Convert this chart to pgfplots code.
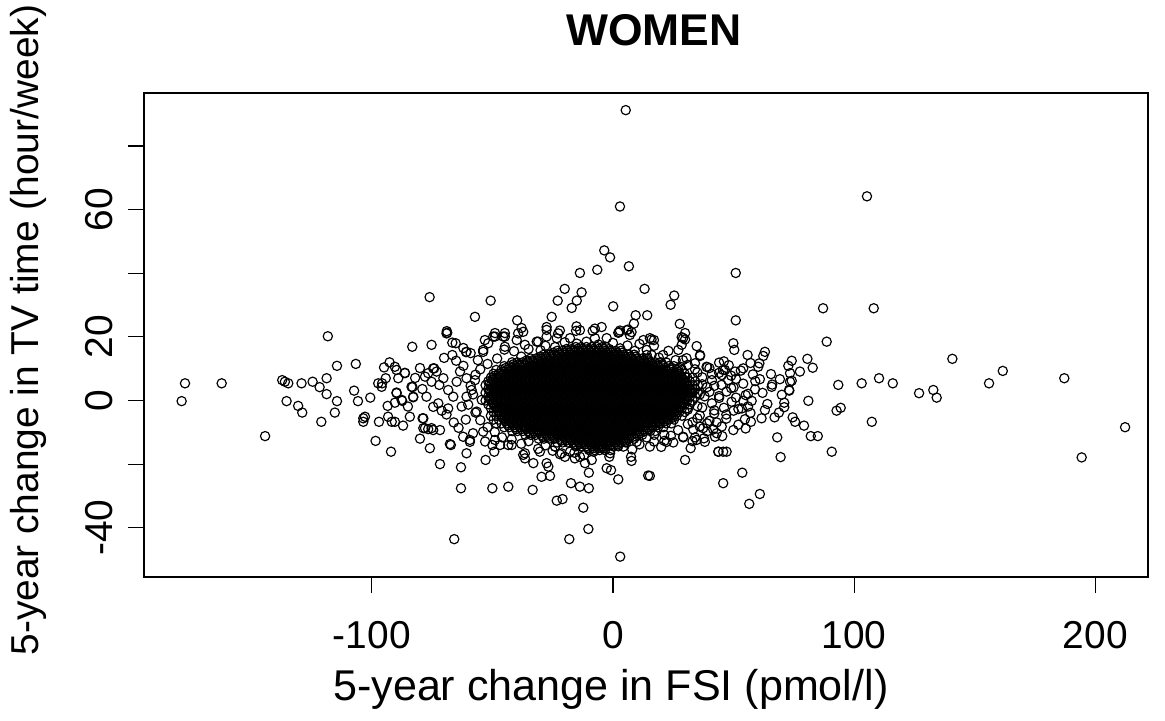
\documentclass[border=0pt]{standalone}
\usepackage{fontspec}
\setmainfont{Liberation Sans}
\usepackage{pgfplots}
\pgfplotsset{compat=1.18}
\pgfplotsset{rmark/.style={only marks, mark=o, mark size=1.67pt, black, mark options={line width=0.42pt}}}
\begin{document}
\begin{tikzpicture}
\path[use as bounding box] (0,0) rectangle (419.4pt,259.2pt);
\begin{axis}[
  at={(51.84pt,51.48pt)}, anchor=south west,
  scale only axis, width=361.44pt, height=174.24pt,
  xmin=-194.4, xmax=221.8, ymin=-55.5, ymax=96.7,
  axis line style={line width=0.42pt},
  tick style={line width=0.42pt, black},
  tick align=outside, major tick length=5.76pt,
  xtick pos=left, ytick pos=left,
  xtick={-100,0,100,200}, xticklabels={-100,0,100,200},
  ytick={-40,-20,0,20,40,60,80}, yticklabels={-40,{},0,20,{},60,{}},
  tick label style={font=\fontsize{14}{16}\selectfont},
  xticklabel style={anchor=base}, xticklabel shift=20.1pt,
  yticklabel style={rotate=90, anchor=base}, yticklabel shift=5.7pt,
  xlabel={5-year change in FSI (pmol/l)},
  ylabel={5-year change in TV time (hour/week)},
  xlabel style={at={(axis description cs:0.465,-0.256)}, anchor=base, font=\fontsize{15.5}{18}\selectfont},
  ylabel style={at={(axis description cs:-0.1046,0.51)}, anchor=base, font=\fontsize{14}{16}\selectfont},
  title={WOMEN},
  every axis title shift=0pt,
  title style={at={(axis description cs:0.508,1.099)}, anchor=base, font=\bfseries\fontsize{16}{19}\selectfont},
]
% dense core
\addplot[rmark] coordinates {
(-15.4,16.8) (-13.2,16.8) (-11,16.8) (-8.8,16.8) (-6.6,16.8) (-4.4,16.8)
(-23.1,15.6) (-20.9,15.6) (-18.7,15.6) (-16.5,15.6) (-14.3,15.6) (-12.1,15.6) (-9.9,15.6) (-7.7,15.6) (-5.5,15.6) (-3.3,15.6) (-1.1,15.6) (1.1,15.6) (3.3,15.6)
(-28.6,14.4) (-26.4,14.4) (-24.2,14.4) (-22,14.4) (-19.8,14.4) (-17.6,14.4) (-15.4,14.4) (-13.2,14.4) (-11,14.4) (-8.8,14.4) (-6.6,14.4) (-4.4,14.4) (-2.2,14.4) (0,14.4) (2.2,14.4) (4.4,14.4) (6.6,14.4) (8.8,14.4)
(-34.1,13.2) (-31.9,13.2) (-29.7,13.2) (-27.5,13.2) (-25.3,13.2) (-23.1,13.2) (-20.9,13.2) (-18.7,13.2) (-16.5,13.2) (-14.3,13.2) (-12.1,13.2) (-9.9,13.2) (-7.7,13.2) (-5.5,13.2) (-3.3,13.2) (-1.1,13.2) (1.1,13.2) (3.3,13.2) (5.5,13.2) (7.7,13.2) (9.9,13.2) (12.1,13.2) (14.3,13.2)
(-41.8,12) (-39.6,12) (-37.4,12) (-35.2,12) (-33,12) (-30.8,12) (-28.6,12) (-26.4,12) (-24.2,12) (-22,12) (-19.8,12) (-17.6,12) (-15.4,12) (-13.2,12) (-11,12) (-8.8,12) (-6.6,12) (-4.4,12) (-2.2,12) (0,12) (2.2,12) (4.4,12) (6.6,12) (8.8,12) (11,12) (13.2,12) (15.4,12) (17.6,12) (19.8,12) (22,12)
(-45.1,10.8) (-42.9,10.8) (-40.7,10.8) (-38.5,10.8) (-36.3,10.8) (-34.1,10.8) (-31.9,10.8) (-29.7,10.8) (-27.5,10.8) (-25.3,10.8) (-23.1,10.8) (-20.9,10.8) (-18.7,10.8) (-16.5,10.8) (-14.3,10.8) (-12.1,10.8) (-9.9,10.8) (-7.7,10.8) (-5.5,10.8) (-3.3,10.8) (-1.1,10.8) (1.1,10.8) (3.3,10.8) (5.5,10.8) (7.7,10.8) (9.9,10.8) (12.1,10.8) (14.3,10.8) (16.5,10.8) (18.7,10.8) (20.9,10.8) (23.1,10.8) (25.3,10.8)
(-48.4,9.6) (-46.2,9.6) (-44,9.6) (-41.8,9.6) (-39.6,9.6) (-37.4,9.6) (-35.2,9.6) (-33,9.6) (-30.8,9.6) (-28.6,9.6) (-26.4,9.6) (-24.2,9.6) (-22,9.6) (-19.8,9.6) (-17.6,9.6) (-15.4,9.6) (-13.2,9.6) (-11,9.6) (-8.8,9.6) (-6.6,9.6) (-4.4,9.6) (-2.2,9.6) (0,9.6) (2.2,9.6) (4.4,9.6) (6.6,9.6) (8.8,9.6) (11,9.6) (13.2,9.6) (15.4,9.6) (17.6,9.6) (19.8,9.6) (22,9.6) (24.2,9.6) (26.4,9.6) (28.6,9.6)
(-49.5,8.4) (-47.3,8.4) (-45.1,8.4) (-42.9,8.4) (-40.7,8.4) (-38.5,8.4) (-36.3,8.4) (-34.1,8.4) (-31.9,8.4) (-29.7,8.4) (-27.5,8.4) (-25.3,8.4) (-23.1,8.4) (-20.9,8.4) (-18.7,8.4) (-16.5,8.4) (-14.3,8.4) (-12.1,8.4) (-9.9,8.4) (-7.7,8.4) (-5.5,8.4) (-3.3,8.4) (-1.1,8.4) (1.1,8.4) (3.3,8.4) (5.5,8.4) (7.7,8.4) (9.9,8.4) (12.1,8.4) (14.3,8.4) (16.5,8.4) (18.7,8.4) (20.9,8.4) (23.1,8.4) (25.3,8.4) (27.5,8.4) (29.7,8.4)
(-50.6,7.2) (-48.4,7.2) (-46.2,7.2) (-44,7.2) (-41.8,7.2) (-39.6,7.2) (-37.4,7.2) (-35.2,7.2) (-33,7.2) (-30.8,7.2) (-28.6,7.2) (-26.4,7.2) (-24.2,7.2) (-22,7.2) (-19.8,7.2) (-17.6,7.2) (-15.4,7.2) (-13.2,7.2) (-11,7.2) (-8.8,7.2) (-6.6,7.2) (-4.4,7.2) (-2.2,7.2) (0,7.2) (2.2,7.2) (4.4,7.2) (6.6,7.2) (8.8,7.2) (11,7.2) (13.2,7.2) (15.4,7.2) (17.6,7.2) (19.8,7.2) (22,7.2) (24.2,7.2) (26.4,7.2) (28.6,7.2) (30.8,7.2) (33,7.2)
(-51.7,6) (-49.5,6) (-47.3,6) (-45.1,6) (-42.9,6) (-40.7,6) (-38.5,6) (-36.3,6) (-34.1,6) (-31.9,6) (-29.7,6) (-27.5,6) (-25.3,6) (-23.1,6) (-20.9,6) (-18.7,6) (-16.5,6) (-14.3,6) (-12.1,6) (-9.9,6) (-7.7,6) (-5.5,6) (-3.3,6) (-1.1,6) (1.1,6) (3.3,6) (5.5,6) (7.7,6) (9.9,6) (12.1,6) (14.3,6) (16.5,6) (18.7,6) (20.9,6) (23.1,6) (25.3,6) (27.5,6) (29.7,6) (31.9,6) (34.1,6)
(-52.8,4.8) (-50.6,4.8) (-48.4,4.8) (-46.2,4.8) (-44,4.8) (-41.8,4.8) (-39.6,4.8) (-37.4,4.8) (-35.2,4.8) (-33,4.8) (-30.8,4.8) (-28.6,4.8) (-26.4,4.8) (-24.2,4.8) (-22,4.8) (-19.8,4.8) (-17.6,4.8) (-15.4,4.8) (-13.2,4.8) (-11,4.8) (-8.8,4.8) (-6.6,4.8) (-4.4,4.8) (-2.2,4.8) (0,4.8) (2.2,4.8) (4.4,4.8) (6.6,4.8) (8.8,4.8) (11,4.8) (13.2,4.8) (15.4,4.8) (17.6,4.8) (19.8,4.8) (22,4.8) (24.2,4.8) (26.4,4.8) (28.6,4.8) (30.8,4.8) (33,4.8) (35.2,4.8)
(-51.7,3.6) (-49.5,3.6) (-47.3,3.6) (-45.1,3.6) (-42.9,3.6) (-40.7,3.6) (-38.5,3.6) (-36.3,3.6) (-34.1,3.6) (-31.9,3.6) (-29.7,3.6) (-27.5,3.6) (-25.3,3.6) (-23.1,3.6) (-20.9,3.6) (-18.7,3.6) (-16.5,3.6) (-14.3,3.6) (-12.1,3.6) (-9.9,3.6) (-7.7,3.6) (-5.5,3.6) (-3.3,3.6) (-1.1,3.6) (1.1,3.6) (3.3,3.6) (5.5,3.6) (7.7,3.6) (9.9,3.6) (12.1,3.6) (14.3,3.6) (16.5,3.6) (18.7,3.6) (20.9,3.6) (23.1,3.6) (25.3,3.6) (27.5,3.6) (29.7,3.6) (31.9,3.6) (34.1,3.6)
(-52.8,2.4) (-50.6,2.4) (-48.4,2.4) (-46.2,2.4) (-44,2.4) (-41.8,2.4) (-39.6,2.4) (-37.4,2.4) (-35.2,2.4) (-33,2.4) (-30.8,2.4) (-28.6,2.4) (-26.4,2.4) (-24.2,2.4) (-22,2.4) (-19.8,2.4) (-17.6,2.4) (-15.4,2.4) (-13.2,2.4) (-11,2.4) (-8.8,2.4) (-6.6,2.4) (-4.4,2.4) (-2.2,2.4) (0,2.4) (2.2,2.4) (4.4,2.4) (6.6,2.4) (8.8,2.4) (11,2.4) (13.2,2.4) (15.4,2.4) (17.6,2.4) (19.8,2.4) (22,2.4) (24.2,2.4) (26.4,2.4) (28.6,2.4) (30.8,2.4) (33,2.4) (35.2,2.4)
(-51.7,1.2) (-49.5,1.2) (-47.3,1.2) (-45.1,1.2) (-42.9,1.2) (-40.7,1.2) (-38.5,1.2) (-36.3,1.2) (-34.1,1.2) (-31.9,1.2) (-29.7,1.2) (-27.5,1.2) (-25.3,1.2) (-23.1,1.2) (-20.9,1.2) (-18.7,1.2) (-16.5,1.2) (-14.3,1.2) (-12.1,1.2) (-9.9,1.2) (-7.7,1.2) (-5.5,1.2) (-3.3,1.2) (-1.1,1.2) (1.1,1.2) (3.3,1.2) (5.5,1.2) (7.7,1.2) (9.9,1.2) (12.1,1.2) (14.3,1.2) (16.5,1.2) (18.7,1.2) (20.9,1.2) (23.1,1.2) (25.3,1.2) (27.5,1.2) (29.7,1.2) (31.9,1.2) (34.1,1.2)
(-52.8,0) (-50.6,0) (-48.4,0) (-46.2,0) (-44,0) (-41.8,0) (-39.6,0) (-37.4,0) (-35.2,0) (-33,0) (-30.8,0) (-28.6,0) (-26.4,0) (-24.2,0) (-22,0) (-19.8,0) (-17.6,0) (-15.4,0) (-13.2,0) (-11,0) (-8.8,0) (-6.6,0) (-4.4,0) (-2.2,0) (0,0) (2.2,0) (4.4,0) (6.6,0) (8.8,0) (11,0) (13.2,0) (15.4,0) (17.6,0) (19.8,0) (22,0) (24.2,0) (26.4,0) (28.6,0) (30.8,0) (33,0)
(-51.7,-1.2) (-49.5,-1.2) (-47.3,-1.2) (-45.1,-1.2) (-42.9,-1.2) (-40.7,-1.2) (-38.5,-1.2) (-36.3,-1.2) (-34.1,-1.2) (-31.9,-1.2) (-29.7,-1.2) (-27.5,-1.2) (-25.3,-1.2) (-23.1,-1.2) (-20.9,-1.2) (-18.7,-1.2) (-16.5,-1.2) (-14.3,-1.2) (-12.1,-1.2) (-9.9,-1.2) (-7.7,-1.2) (-5.5,-1.2) (-3.3,-1.2) (-1.1,-1.2) (1.1,-1.2) (3.3,-1.2) (5.5,-1.2) (7.7,-1.2) (9.9,-1.2) (12.1,-1.2) (14.3,-1.2) (16.5,-1.2) (18.7,-1.2) (20.9,-1.2) (23.1,-1.2) (25.3,-1.2) (27.5,-1.2) (29.7,-1.2) (31.9,-1.2)
(-50.6,-2.4) (-48.4,-2.4) (-46.2,-2.4) (-44,-2.4) (-41.8,-2.4) (-39.6,-2.4) (-37.4,-2.4) (-35.2,-2.4) (-33,-2.4) (-30.8,-2.4) (-28.6,-2.4) (-26.4,-2.4) (-24.2,-2.4) (-22,-2.4) (-19.8,-2.4) (-17.6,-2.4) (-15.4,-2.4) (-13.2,-2.4) (-11,-2.4) (-8.8,-2.4) (-6.6,-2.4) (-4.4,-2.4) (-2.2,-2.4) (0,-2.4) (2.2,-2.4) (4.4,-2.4) (6.6,-2.4) (8.8,-2.4) (11,-2.4) (13.2,-2.4) (15.4,-2.4) (17.6,-2.4) (19.8,-2.4) (22,-2.4) (24.2,-2.4) (26.4,-2.4) (28.6,-2.4) (30.8,-2.4)
(-49.5,-3.6) (-47.3,-3.6) (-45.1,-3.6) (-42.9,-3.6) (-40.7,-3.6) (-38.5,-3.6) (-36.3,-3.6) (-34.1,-3.6) (-31.9,-3.6) (-29.7,-3.6) (-27.5,-3.6) (-25.3,-3.6) (-23.1,-3.6) (-20.9,-3.6) (-18.7,-3.6) (-16.5,-3.6) (-14.3,-3.6) (-12.1,-3.6) (-9.9,-3.6) (-7.7,-3.6) (-5.5,-3.6) (-3.3,-3.6) (-1.1,-3.6) (1.1,-3.6) (3.3,-3.6) (5.5,-3.6) (7.7,-3.6) (9.9,-3.6) (12.1,-3.6) (14.3,-3.6) (16.5,-3.6) (18.7,-3.6) (20.9,-3.6) (23.1,-3.6) (25.3,-3.6) (27.5,-3.6) (29.7,-3.6)
(-50.6,-4.8) (-48.4,-4.8) (-46.2,-4.8) (-44,-4.8) (-41.8,-4.8) (-39.6,-4.8) (-37.4,-4.8) (-35.2,-4.8) (-33,-4.8) (-30.8,-4.8) (-28.6,-4.8) (-26.4,-4.8) (-24.2,-4.8) (-22,-4.8) (-19.8,-4.8) (-17.6,-4.8) (-15.4,-4.8) (-13.2,-4.8) (-11,-4.8) (-8.8,-4.8) (-6.6,-4.8) (-4.4,-4.8) (-2.2,-4.8) (0,-4.8) (2.2,-4.8) (4.4,-4.8) (6.6,-4.8) (8.8,-4.8) (11,-4.8) (13.2,-4.8) (15.4,-4.8) (17.6,-4.8) (19.8,-4.8) (22,-4.8) (24.2,-4.8) (26.4,-4.8) (28.6,-4.8)
(-49.5,-6) (-47.3,-6) (-45.1,-6) (-42.9,-6) (-40.7,-6) (-38.5,-6) (-36.3,-6) (-34.1,-6) (-31.9,-6) (-29.7,-6) (-27.5,-6) (-25.3,-6) (-23.1,-6) (-20.9,-6) (-18.7,-6) (-16.5,-6) (-14.3,-6) (-12.1,-6) (-9.9,-6) (-7.7,-6) (-5.5,-6) (-3.3,-6) (-1.1,-6) (1.1,-6) (3.3,-6) (5.5,-6) (7.7,-6) (9.9,-6) (12.1,-6) (14.3,-6) (16.5,-6) (18.7,-6) (20.9,-6) (23.1,-6) (25.3,-6)
(-48.4,-7.2) (-46.2,-7.2) (-44,-7.2) (-41.8,-7.2) (-39.6,-7.2) (-37.4,-7.2) (-35.2,-7.2) (-33,-7.2) (-30.8,-7.2) (-28.6,-7.2) (-26.4,-7.2) (-24.2,-7.2) (-22,-7.2) (-19.8,-7.2) (-17.6,-7.2) (-15.4,-7.2) (-13.2,-7.2) (-11,-7.2) (-8.8,-7.2) (-6.6,-7.2) (-4.4,-7.2) (-2.2,-7.2) (0,-7.2) (2.2,-7.2) (4.4,-7.2) (6.6,-7.2) (8.8,-7.2) (11,-7.2) (13.2,-7.2) (15.4,-7.2) (17.6,-7.2) (19.8,-7.2) (22,-7.2) (24.2,-7.2)
(-45.1,-8.4) (-42.9,-8.4) (-40.7,-8.4) (-38.5,-8.4) (-36.3,-8.4) (-34.1,-8.4) (-31.9,-8.4) (-29.7,-8.4) (-27.5,-8.4) (-25.3,-8.4) (-23.1,-8.4) (-20.9,-8.4) (-18.7,-8.4) (-16.5,-8.4) (-14.3,-8.4) (-12.1,-8.4) (-9.9,-8.4) (-7.7,-8.4) (-5.5,-8.4) (-3.3,-8.4) (-1.1,-8.4) (1.1,-8.4) (3.3,-8.4) (5.5,-8.4) (7.7,-8.4) (9.9,-8.4) (12.1,-8.4) (14.3,-8.4) (16.5,-8.4) (18.7,-8.4) (20.9,-8.4)
(-41.8,-9.6) (-39.6,-9.6) (-37.4,-9.6) (-35.2,-9.6) (-33,-9.6) (-30.8,-9.6) (-28.6,-9.6) (-26.4,-9.6) (-24.2,-9.6) (-22,-9.6) (-19.8,-9.6) (-17.6,-9.6) (-15.4,-9.6) (-13.2,-9.6) (-11,-9.6) (-8.8,-9.6) (-6.6,-9.6) (-4.4,-9.6) (-2.2,-9.6) (0,-9.6) (2.2,-9.6) (4.4,-9.6) (6.6,-9.6) (8.8,-9.6) (11,-9.6) (13.2,-9.6) (15.4,-9.6) (17.6,-9.6)
(-36.3,-10.8) (-34.1,-10.8) (-31.9,-10.8) (-29.7,-10.8) (-27.5,-10.8) (-25.3,-10.8) (-23.1,-10.8) (-20.9,-10.8) (-18.7,-10.8) (-16.5,-10.8) (-14.3,-10.8) (-12.1,-10.8) (-9.9,-10.8) (-7.7,-10.8) (-5.5,-10.8) (-3.3,-10.8) (-1.1,-10.8) (1.1,-10.8) (3.3,-10.8) (5.5,-10.8) (7.7,-10.8) (9.9,-10.8) (12.1,-10.8)
(-30.8,-12) (-28.6,-12) (-26.4,-12) (-24.2,-12) (-22,-12) (-19.8,-12) (-17.6,-12) (-15.4,-12) (-13.2,-12) (-11,-12) (-8.8,-12) (-6.6,-12) (-4.4,-12) (-2.2,-12) (0,-12) (2.2,-12) (4.4,-12) (6.6,-12) (8.8,-12)
(-23.1,-13.2) (-20.9,-13.2) (-18.7,-13.2) (-16.5,-13.2) (-14.3,-13.2) (-12.1,-13.2) (-9.9,-13.2) (-7.7,-13.2) (-5.5,-13.2) (-3.3,-13.2) (-1.1,-13.2) (1.1,-13.2) (3.3,-13.2) (5.5,-13.2)
(-15.4,-14.4) (-13.2,-14.4) (-11,-14.4) (-8.8,-14.4) (-6.6,-14.4) (-4.4,-14.4) (-2.2,-14.4) (0,-14.4) (2.2,-14.4)
(-9.9,-15.6) (-7.7,-15.6) (-5.5,-15.6) (-3.3,-15.6)
};
% dense core, in-between rows
\addplot[rmark] coordinates {
(-19.2,16.2) (-17,16.2) (-14.8,16.2) (-12.6,16.2) (-10.4,16.2) (-8.2,16.2) (-6,16.2) (-3.8,16.2) (-1.6,16.2)
(-24.7,15) (-22.5,15) (-20.3,15) (-18.1,15) (-15.9,15) (-13.7,15) (-11.5,15) (-9.3,15) (-7.1,15) (-4.9,15) (-2.7,15) (-0.5,15) (1.7,15) (3.9,15)
(-30.2,13.8) (-28,13.8) (-25.8,13.8) (-23.6,13.8) (-21.4,13.8) (-19.2,13.8) (-17,13.8) (-14.8,13.8) (-12.6,13.8) (-10.4,13.8) (-8.2,13.8) (-6,13.8) (-3.8,13.8) (-1.6,13.8) (0.6,13.8) (2.8,13.8) (5,13.8) (7.2,13.8) (9.4,13.8)
(-35.7,12.6) (-33.5,12.6) (-31.3,12.6) (-29.1,12.6) (-26.9,12.6) (-24.7,12.6) (-22.5,12.6) (-20.3,12.6) (-18.1,12.6) (-15.9,12.6) (-13.7,12.6) (-11.5,12.6) (-9.3,12.6) (-7.1,12.6) (-4.9,12.6) (-2.7,12.6) (-0.5,12.6) (1.7,12.6) (3.9,12.6) (6.1,12.6) (8.3,12.6) (10.5,12.6) (12.7,12.6) (14.9,12.6)
(-41.2,11.4) (-39,11.4) (-36.8,11.4) (-34.6,11.4) (-32.4,11.4) (-30.2,11.4) (-28,11.4) (-25.8,11.4) (-23.6,11.4) (-21.4,11.4) (-19.2,11.4) (-17,11.4) (-14.8,11.4) (-12.6,11.4) (-10.4,11.4) (-8.2,11.4) (-6,11.4) (-3.8,11.4) (-1.6,11.4) (0.6,11.4) (2.8,11.4) (5,11.4) (7.2,11.4) (9.4,11.4) (11.6,11.4) (13.8,11.4) (16,11.4) (18.2,11.4) (20.4,11.4)
(-44.5,10.2) (-42.3,10.2) (-40.1,10.2) (-37.9,10.2) (-35.7,10.2) (-33.5,10.2) (-31.3,10.2) (-29.1,10.2) (-26.9,10.2) (-24.7,10.2) (-22.5,10.2) (-20.3,10.2) (-18.1,10.2) (-15.9,10.2) (-13.7,10.2) (-11.5,10.2) (-9.3,10.2) (-7.1,10.2) (-4.9,10.2) (-2.7,10.2) (-0.5,10.2) (1.7,10.2) (3.9,10.2) (6.1,10.2) (8.3,10.2) (10.5,10.2) (12.7,10.2) (14.9,10.2) (17.1,10.2) (19.3,10.2) (21.5,10.2) (23.7,10.2)
(-45.6,9) (-43.4,9) (-41.2,9) (-39,9) (-36.8,9) (-34.6,9) (-32.4,9) (-30.2,9) (-28,9) (-25.8,9) (-23.6,9) (-21.4,9) (-19.2,9) (-17,9) (-14.8,9) (-12.6,9) (-10.4,9) (-8.2,9) (-6,9) (-3.8,9) (-1.6,9) (0.6,9) (2.8,9) (5,9) (7.2,9) (9.4,9) (11.6,9) (13.8,9) (16,9) (18.2,9) (20.4,9) (22.6,9) (24.8,9) (27,9)
(-48.9,7.8) (-46.7,7.8) (-44.5,7.8) (-42.3,7.8) (-40.1,7.8) (-37.9,7.8) (-35.7,7.8) (-33.5,7.8) (-31.3,7.8) (-29.1,7.8) (-26.9,7.8) (-24.7,7.8) (-22.5,7.8) (-20.3,7.8) (-18.1,7.8) (-15.9,7.8) (-13.7,7.8) (-11.5,7.8) (-9.3,7.8) (-7.1,7.8) (-4.9,7.8) (-2.7,7.8) (-0.5,7.8) (1.7,7.8) (3.9,7.8) (6.1,7.8) (8.3,7.8) (10.5,7.8) (12.7,7.8) (14.9,7.8) (17.1,7.8) (19.3,7.8) (21.5,7.8) (23.7,7.8) (25.9,7.8) (28.1,7.8)
(-50,6.6) (-47.8,6.6) (-45.6,6.6) (-43.4,6.6) (-41.2,6.6) (-39,6.6) (-36.8,6.6) (-34.6,6.6) (-32.4,6.6) (-30.2,6.6) (-28,6.6) (-25.8,6.6) (-23.6,6.6) (-21.4,6.6) (-19.2,6.6) (-17,6.6) (-14.8,6.6) (-12.6,6.6) (-10.4,6.6) (-8.2,6.6) (-6,6.6) (-3.8,6.6) (-1.6,6.6) (0.6,6.6) (2.8,6.6) (5,6.6) (7.2,6.6) (9.4,6.6) (11.6,6.6) (13.8,6.6) (16,6.6) (18.2,6.6) (20.4,6.6) (22.6,6.6) (24.8,6.6) (27,6.6) (29.2,6.6)
(-51.1,5.4) (-48.9,5.4) (-46.7,5.4) (-44.5,5.4) (-42.3,5.4) (-40.1,5.4) (-37.9,5.4) (-35.7,5.4) (-33.5,5.4) (-31.3,5.4) (-29.1,5.4) (-26.9,5.4) (-24.7,5.4) (-22.5,5.4) (-20.3,5.4) (-18.1,5.4) (-15.9,5.4) (-13.7,5.4) (-11.5,5.4) (-9.3,5.4) (-7.1,5.4) (-4.9,5.4) (-2.7,5.4) (-0.5,5.4) (1.7,5.4) (3.9,5.4) (6.1,5.4) (8.3,5.4) (10.5,5.4) (12.7,5.4) (14.9,5.4) (17.1,5.4) (19.3,5.4) (21.5,5.4) (23.7,5.4) (25.9,5.4) (28.1,5.4) (30.3,5.4)
(-50,4.2) (-47.8,4.2) (-45.6,4.2) (-43.4,4.2) (-41.2,4.2) (-39,4.2) (-36.8,4.2) (-34.6,4.2) (-32.4,4.2) (-30.2,4.2) (-28,4.2) (-25.8,4.2) (-23.6,4.2) (-21.4,4.2) (-19.2,4.2) (-17,4.2) (-14.8,4.2) (-12.6,4.2) (-10.4,4.2) (-8.2,4.2) (-6,4.2) (-3.8,4.2) (-1.6,4.2) (0.6,4.2) (2.8,4.2) (5,4.2) (7.2,4.2) (9.4,4.2) (11.6,4.2) (13.8,4.2) (16,4.2) (18.2,4.2) (20.4,4.2) (22.6,4.2) (24.8,4.2) (27,4.2) (29.2,4.2) (31.4,4.2)
(-51.1,3) (-48.9,3) (-46.7,3) (-44.5,3) (-42.3,3) (-40.1,3) (-37.9,3) (-35.7,3) (-33.5,3) (-31.3,3) (-29.1,3) (-26.9,3) (-24.7,3) (-22.5,3) (-20.3,3) (-18.1,3) (-15.9,3) (-13.7,3) (-11.5,3) (-9.3,3) (-7.1,3) (-4.9,3) (-2.7,3) (-0.5,3) (1.7,3) (3.9,3) (6.1,3) (8.3,3) (10.5,3) (12.7,3) (14.9,3) (17.1,3) (19.3,3) (21.5,3) (23.7,3) (25.9,3) (28.1,3) (30.3,3) (32.5,3)
(-50,1.8) (-47.8,1.8) (-45.6,1.8) (-43.4,1.8) (-41.2,1.8) (-39,1.8) (-36.8,1.8) (-34.6,1.8) (-32.4,1.8) (-30.2,1.8) (-28,1.8) (-25.8,1.8) (-23.6,1.8) (-21.4,1.8) (-19.2,1.8) (-17,1.8) (-14.8,1.8) (-12.6,1.8) (-10.4,1.8) (-8.2,1.8) (-6,1.8) (-3.8,1.8) (-1.6,1.8) (0.6,1.8) (2.8,1.8) (5,1.8) (7.2,1.8) (9.4,1.8) (11.6,1.8) (13.8,1.8) (16,1.8) (18.2,1.8) (20.4,1.8) (22.6,1.8) (24.8,1.8) (27,1.8) (29.2,1.8) (31.4,1.8)
(-51.1,0.6) (-48.9,0.6) (-46.7,0.6) (-44.5,0.6) (-42.3,0.6) (-40.1,0.6) (-37.9,0.6) (-35.7,0.6) (-33.5,0.6) (-31.3,0.6) (-29.1,0.6) (-26.9,0.6) (-24.7,0.6) (-22.5,0.6) (-20.3,0.6) (-18.1,0.6) (-15.9,0.6) (-13.7,0.6) (-11.5,0.6) (-9.3,0.6) (-7.1,0.6) (-4.9,0.6) (-2.7,0.6) (-0.5,0.6) (1.7,0.6) (3.9,0.6) (6.1,0.6) (8.3,0.6) (10.5,0.6) (12.7,0.6) (14.9,0.6) (17.1,0.6) (19.3,0.6) (21.5,0.6) (23.7,0.6) (25.9,0.6) (28.1,0.6) (30.3,0.6)
(-50,-0.6) (-47.8,-0.6) (-45.6,-0.6) (-43.4,-0.6) (-41.2,-0.6) (-39,-0.6) (-36.8,-0.6) (-34.6,-0.6) (-32.4,-0.6) (-30.2,-0.6) (-28,-0.6) (-25.8,-0.6) (-23.6,-0.6) (-21.4,-0.6) (-19.2,-0.6) (-17,-0.6) (-14.8,-0.6) (-12.6,-0.6) (-10.4,-0.6) (-8.2,-0.6) (-6,-0.6) (-3.8,-0.6) (-1.6,-0.6) (0.6,-0.6) (2.8,-0.6) (5,-0.6) (7.2,-0.6) (9.4,-0.6) (11.6,-0.6) (13.8,-0.6) (16,-0.6) (18.2,-0.6) (20.4,-0.6) (22.6,-0.6) (24.8,-0.6) (27,-0.6) (29.2,-0.6)
(-48.9,-1.8) (-46.7,-1.8) (-44.5,-1.8) (-42.3,-1.8) (-40.1,-1.8) (-37.9,-1.8) (-35.7,-1.8) (-33.5,-1.8) (-31.3,-1.8) (-29.1,-1.8) (-26.9,-1.8) (-24.7,-1.8) (-22.5,-1.8) (-20.3,-1.8) (-18.1,-1.8) (-15.9,-1.8) (-13.7,-1.8) (-11.5,-1.8) (-9.3,-1.8) (-7.1,-1.8) (-4.9,-1.8) (-2.7,-1.8) (-0.5,-1.8) (1.7,-1.8) (3.9,-1.8) (6.1,-1.8) (8.3,-1.8) (10.5,-1.8) (12.7,-1.8) (14.9,-1.8) (17.1,-1.8) (19.3,-1.8) (21.5,-1.8) (23.7,-1.8) (25.9,-1.8) (28.1,-1.8)
(-47.8,-3) (-45.6,-3) (-43.4,-3) (-41.2,-3) (-39,-3) (-36.8,-3) (-34.6,-3) (-32.4,-3) (-30.2,-3) (-28,-3) (-25.8,-3) (-23.6,-3) (-21.4,-3) (-19.2,-3) (-17,-3) (-14.8,-3) (-12.6,-3) (-10.4,-3) (-8.2,-3) (-6,-3) (-3.8,-3) (-1.6,-3) (0.6,-3) (2.8,-3) (5,-3) (7.2,-3) (9.4,-3) (11.6,-3) (13.8,-3) (16,-3) (18.2,-3) (20.4,-3) (22.6,-3) (24.8,-3) (27,-3)
(-46.7,-4.2) (-44.5,-4.2) (-42.3,-4.2) (-40.1,-4.2) (-37.9,-4.2) (-35.7,-4.2) (-33.5,-4.2) (-31.3,-4.2) (-29.1,-4.2) (-26.9,-4.2) (-24.7,-4.2) (-22.5,-4.2) (-20.3,-4.2) (-18.1,-4.2) (-15.9,-4.2) (-13.7,-4.2) (-11.5,-4.2) (-9.3,-4.2) (-7.1,-4.2) (-4.9,-4.2) (-2.7,-4.2) (-0.5,-4.2) (1.7,-4.2) (3.9,-4.2) (6.1,-4.2) (8.3,-4.2) (10.5,-4.2) (12.7,-4.2) (14.9,-4.2) (17.1,-4.2) (19.3,-4.2) (21.5,-4.2) (23.7,-4.2) (25.9,-4.2)
(-45.6,-5.4) (-43.4,-5.4) (-41.2,-5.4) (-39,-5.4) (-36.8,-5.4) (-34.6,-5.4) (-32.4,-5.4) (-30.2,-5.4) (-28,-5.4) (-25.8,-5.4) (-23.6,-5.4) (-21.4,-5.4) (-19.2,-5.4) (-17,-5.4) (-14.8,-5.4) (-12.6,-5.4) (-10.4,-5.4) (-8.2,-5.4) (-6,-5.4) (-3.8,-5.4) (-1.6,-5.4) (0.6,-5.4) (2.8,-5.4) (5,-5.4) (7.2,-5.4) (9.4,-5.4) (11.6,-5.4) (13.8,-5.4) (16,-5.4) (18.2,-5.4) (20.4,-5.4) (22.6,-5.4) (24.8,-5.4)
(-44.5,-6.6) (-42.3,-6.6) (-40.1,-6.6) (-37.9,-6.6) (-35.7,-6.6) (-33.5,-6.6) (-31.3,-6.6) (-29.1,-6.6) (-26.9,-6.6) (-24.7,-6.6) (-22.5,-6.6) (-20.3,-6.6) (-18.1,-6.6) (-15.9,-6.6) (-13.7,-6.6) (-11.5,-6.6) (-9.3,-6.6) (-7.1,-6.6) (-4.9,-6.6) (-2.7,-6.6) (-0.5,-6.6) (1.7,-6.6) (3.9,-6.6) (6.1,-6.6) (8.3,-6.6) (10.5,-6.6) (12.7,-6.6) (14.9,-6.6) (17.1,-6.6) (19.3,-6.6) (21.5,-6.6)
(-43.4,-7.8) (-41.2,-7.8) (-39,-7.8) (-36.8,-7.8) (-34.6,-7.8) (-32.4,-7.8) (-30.2,-7.8) (-28,-7.8) (-25.8,-7.8) (-23.6,-7.8) (-21.4,-7.8) (-19.2,-7.8) (-17,-7.8) (-14.8,-7.8) (-12.6,-7.8) (-10.4,-7.8) (-8.2,-7.8) (-6,-7.8) (-3.8,-7.8) (-1.6,-7.8) (0.6,-7.8) (2.8,-7.8) (5,-7.8) (7.2,-7.8) (9.4,-7.8) (11.6,-7.8) (13.8,-7.8) (16,-7.8) (18.2,-7.8)
(-40.1,-9) (-37.9,-9) (-35.7,-9) (-33.5,-9) (-31.3,-9) (-29.1,-9) (-26.9,-9) (-24.7,-9) (-22.5,-9) (-20.3,-9) (-18.1,-9) (-15.9,-9) (-13.7,-9) (-11.5,-9) (-9.3,-9) (-7.1,-9) (-4.9,-9) (-2.7,-9) (-0.5,-9) (1.7,-9) (3.9,-9) (6.1,-9) (8.3,-9) (10.5,-9) (12.7,-9) (14.9,-9)
(-34.6,-10.2) (-32.4,-10.2) (-30.2,-10.2) (-28,-10.2) (-25.8,-10.2) (-23.6,-10.2) (-21.4,-10.2) (-19.2,-10.2) (-17,-10.2) (-14.8,-10.2) (-12.6,-10.2) (-10.4,-10.2) (-8.2,-10.2) (-6,-10.2) (-3.8,-10.2) (-1.6,-10.2) (0.6,-10.2) (2.8,-10.2) (5,-10.2) (7.2,-10.2) (9.4,-10.2) (11.6,-10.2)
(-29.1,-11.4) (-26.9,-11.4) (-24.7,-11.4) (-22.5,-11.4) (-20.3,-11.4) (-18.1,-11.4) (-15.9,-11.4) (-13.7,-11.4) (-11.5,-11.4) (-9.3,-11.4) (-7.1,-11.4) (-4.9,-11.4) (-2.7,-11.4) (-0.5,-11.4) (1.7,-11.4) (3.9,-11.4) (6.1,-11.4) (8.3,-11.4)
(-21.4,-12.6) (-19.2,-12.6) (-17,-12.6) (-14.8,-12.6) (-12.6,-12.6) (-10.4,-12.6) (-8.2,-12.6) (-6,-12.6) (-3.8,-12.6) (-1.6,-12.6) (0.6,-12.6) (2.8,-12.6) (5,-12.6)
(-15.9,-13.8) (-13.7,-13.8) (-11.5,-13.8) (-9.3,-13.8) (-7.1,-13.8) (-4.9,-13.8) (-2.7,-13.8) (-0.5,-13.8) (1.7,-13.8)
(-10.4,-15) (-8.2,-15) (-6,-15) (-3.8,-15)
};
% halo and outliers
\addplot[rmark] coordinates {
(5.3,91.3) (2.9,61.0) (-3.6,47.2) (-1.2,45.0) (-13.7,40.1) (-6.5,41.1) (6.6,42.2) (13.1,35.1) (-20.0,35.1) (-13.0,34.0) (-22.9,31.4) (-15.0,31.4) (-17.1,29.1) (0.1,29.6) (-76.0,32.5) (-50.7,31.4) (-57.2,26.3) (-39.7,25.2) (-25.4,26.3) (9.4,26.8) (14.2,26.8) (8.7,24.2) (-27.5,23.1) (-68.9,21.8) (-37.9,22.8) (-15.1,23.3) (-7.5,22.6) (-4.7,23.1) (2.9,22.0) (6.3,22.3) (-22.0,22.0) (-48.9,21.2) (-44.8,21.2)
(105.3,64.2) (50.9,40.1) (25.4,33.0) (23.9,30.1) (27.7,24.1) (50.9,25.2) (87.1,29.0) (108.1,29.0) (29.9,21.2)
(-118.2,20.2) (-177.4,5.4) (-162.2,5.4) (-178.8,-0.2) (-144.2,-11.2) (-137.1,6.4) (-136.0,5.9) (-134.6,5.4) (-129.1,5.4) (-124.5,5.9) (-121.6,4.2) (-118.7,7.0) (-114.4,10.9) (-118.7,2.0) (-114.4,-0.2) (-135.3,-0.2) (-130.5,-1.7) (-128.8,-3.8) (-115.3,-3.8) (-120.9,-6.7) (-106.6,11.5) (-107.3,3.1) (-105.7,-0.2) (-100.6,0.9) (-103.5,-5.6) (-102.8,-5.1) (-103.5,-6.7) (-97.0,-6.7) (-91.7,-6.7) (-93.2,-5.1) (-98.4,-12.7) (-92.0,-16.1) (-92.6,12.0) (-94.9,10.4) (-89.7,9.6) (-97.3,5.4) (-95.7,5.4) (-95.9,4.3) (-94.2,7.0) (-89.7,2.5) (-90.4,-0.7) (-93.4,-1.7) (-86.3,8.7) (-87.4,-0.1)
(-83.2,16.9) (-83.1,4.2) (-82.8,1.0) (-84.2,-5.1) (-78.9,-5.6) (-75.9,-15.0) (-75.2,17.5) (-68.7,21.3) (-66.6,18.2) (-65.2,18.0) (-66.6,14.3) (-60.7,15.3) (-77.9,7.5) (-74.1,10.1) (-73.1,9.1) (-75.2,5.9) (-77.3,1.2) (-74.5,-2.0) (-77.9,-8.7) (-75.2,-8.7) (-67.6,-13.7) (-60.7,-16.6) (-59.3,-13.0) (-62.1,-11.4)
(-69.0,21.1) (-60.9,15.2) (-53.8,15.9) (-51.7,18.0) (-48.9,20.1) (-44.8,20.1) (-44.8,16.9) (-39.3,21.1) (-37.2,21.6) (-31.0,18.5) (-27.5,22.2)
(-90.4,10.6) (-86.2,8.6) (-89.0,7.0) (-83.5,4.3) (-89.7,2.3) (-87.6,0.2) (-90.4,-6.7) (-78.6,-5.6) (-82.8,1.2)
(-78.6,-8.7) (-76.6,-9.0) (-74.5,-9.3) (-71.7,-9.3) (-71.7,-20.0) (-67.2,-14.0) (-63.0,-21.0) (-59.3,-12.4) (-63.0,-27.6) (-65.8,-43.6) (-52.8,-18.7) (-50.0,-27.6) (-43.4,-27.1) (-49.2,-16.1) (-46.8,-14.0) (-42.0,-14.0) (-37.2,-17.1) (-36.5,-18.2) (-33.0,-19.7) (-29.6,-24.0) (-26.8,-20.8) (-26.1,-23.7) (-27.5,-19.7) (-33.3,-28.1) (-23.3,-31.5) (-20.9,-31.0) (-17.4,-26.0) (-13.7,-27.1) (-10.0,-27.6) (-15.8,-18.2) (-10.0,-22.7) (-8.8,-18.7) (-11.6,-19.7) (-12.3,-33.7) (-10.2,-40.4) (-18.1,-43.6) (3.0,-49.1) (-15.0,-14.0) (-24.0,-14.5) (-21.3,-16.6) (-19.9,-17.7) (-2.6,-21.3) (-0.8,-21.9) (2.2,-24.8) (-1.5,-17.7) (7.5,-17.7) (7.7,-19.0) (14.6,-23.6)
(-76.6,8.6) (-74.5,10.1) (-70.3,7.0) (-64.8,5.9) (-63.4,9.1) (-60.7,7.0) (-57.2,6.4) (-68.3,3.3) (-66.2,1.2) (-60.7,1.2) (-58.6,3.3) (-72.4,-0.9) (-68.3,-2.5) (-62.7,-1.9) (-56.5,-3.5) (-54.4,0.2)
(88.6,18.5) (93.4,4.9) (103.1,5.4) (110.3,7.0) (116.0,5.4) (107.3,-6.7) (92.7,-3.2) (94.4,-2.3) (90.7,-16.1) (81.0,-0.1) (80.6,13.1) (82.8,10.3) (77.5,9.1) (74.1,12.5) (72.7,10.9) (73.4,8.6) (73.4,5.9) (73.1,3.1) (71.0,-0.7) (68.8,-3.8) (74.5,-5.3) (75.5,-6.7) (79.2,-7.9) (82.0,-11.2) (84.9,-11.2) (68.1,-11.6) (69.5,-17.8) (53.6,-22.7) (45.7,-26.0) (60.9,-29.4) (56.5,-32.5) (29.9,-18.7) (15.3,-23.7) (32.2,-15.0) (29.1,-11.6) (34.0,-11.6) (37.7,-11.9) (38.1,-13.0) (42.3,-11.4) (45.3,-11.2) (43.7,-16.1) (45.7,-16.1) (49.9,-9.3) (33.3,-9.1) (41.6,-9.1) (45.1,-8.2) (21.3,-10.8) (21.3,-12.7) (17.1,-10.8)
(15.3,19.6) (17.0,19.0) (28.5,19.9) (29.9,19.2) (28.5,17.5) (34.7,17.1) (27.1,15.9) (36.1,14.0) (30.5,13.3) (34.0,11.7) (38.8,10.6) (16.0,14.3) (14.0,14.3)
(49.9,18.0) (50.3,15.9) (55.8,14.3) (60.7,11.7) (63.0,15.3) (62.3,14.0) (60.2,10.6) (65.5,8.3) (60.9,6.7) (69.2,6.7) (74.1,6.2) (73.0,3.3) (65.8,4.3) (58.9,3.5) (57.5,-0.1) (63.0,-3.0) (61.6,-5.6) (57.2,-6.7) (54.7,-5.9) (53.4,-2.5) (54.0,-0.1) (50.6,9.1) (46.4,9.6) (45.1,8.0) (47.8,6.4) (47.1,2.8) (49.2,-0.4)
(126.9,2.3) (132.8,3.3) (134.2,0.9) (140.7,13.1) (155.9,5.4) (161.6,9.3) (187.1,7.0) (194.3,-17.9) (212.3,-8.4)
(-22.7,21.1) (-15.3,21.9) (-13.7,22.1) (-8.4,21.9) (2.6,21.5) (5.7,22.1) (7.7,21.5) (16.0,19.2) (20.8,14.3) (29.1,19.6) (36.1,14.3) (39.1,10.5) (45.7,9.6)
(-53.1,19.0) (-49.6,20.1) (-45.5,20.1) (-53.8,15.3) (-39.9,19.0) (-36.5,17.5) (-31.6,18.5) (-27.5,20.1) (-23.3,19.6) (-17.8,19.6) (-7.5,19.6) (-2.6,19.6) (2.2,21.3) (7.0,20.6) (12.6,19.0)
(-53.8,-9.8) (-48.9,-12.4) (-43.4,-14.0) (-36.5,-16.6) (-30.3,-16.1) (-24.0,-14.5) (-17.8,-16.1) (-13.7,-17.7) (-1.2,-16.6) (4.3,-14.5) (9.8,-13.0) (15.3,-14.5) (22.3,-13.0) (29.1,-11.4) (34.7,-12.4) (37.4,-8.7) (43.0,-10.3) (43.7,-16.1) (47.1,-16.1)
(-45,16) (-41,15.5) (-38,13.8) (-35,16.2) (-30,15.8) (-28,17.2) (-24,16.8) (-20,18.3) (-15,17.9) (-11,18.5) (-6,17.6) (-3,16.9) (0,18.1) (3,16.4) (6,17.3) (9,15.6) (11,17.8) (14,15.9) (17,17.2) (19,13.5) (23,15.6) (26,12.7) (-48,13.2) (-52,11.5) (-55,9.8) (-57,8.1) (-59,4.6) (-58,1.9) (-60,-1.3) (-57,-3.8) (-55,-6.2) (-52,-8.4) (-49,-9.9) (-46,-11.6) (-42,-12.2) (-38,-13.6) (-35,-12.8) (-31,-15.2) (-28,-14.1) (-25,-15.8) (-22,-16.9) (-16,-16.4) (-12,-17.2) (-8,-16.1) (-5,-14.9) (-1,-15.6) (2,-14.2) (5,-13.1) (8,-15.4) (11,-13.8) (14,-11.6) (17,-12.9) (20,-14.6) (24,-11.1) (27,-9.3) (25,-13.2) (31,-7.4) (35,-5.6) (37,-2.2) (38,1.3) (39,4.2) (37,7.3) (34,9.8) (31,11.2) (28,10.6) (40,-6.4) (42,-3.1) (44,0.8) (42,4.6) (41,8.3) (44,11.9) (47,-4.4) (49,3.9) (51,6.8) (52,-2.7) (56,2.1) (54,10.1) (57,-3.9) (59,6.1) (62,2.4) (64,-1.1) (66,5.0) (67,-5.3) (70,1.8) (71,-2.1) (39,-9.7) (36,-8.2) (33,-12.8)
(-65,12.5) (-62,10.9) (-70,13.4) (-80,10.2) (-82,7.1) (-79,3.6) (-72,4.9) (-69,-4.4) (-66,-6.9) (-71,-3.2) (-64,-8.6) (-58,-10.3) (-61,-6.0) (-85,-1.9) (-87,-7.9) (-80,-12.0) (-56,12.7) (-59,14.9) (-62,16.5) (-53,-12.9) (-50,-14.0)
(35,8.8) (37,5.1) (36,1.9) (35,-1.8) (36,-4.7) (39,-7.2) (40,10.2) (41,6.4) (40,2.7) (41,-0.9) (42,-4.1) (43,-6.9) (44,8.7) (45,4.9) (44,1.4) (46,-2.3) (47,-5.7) (46,12.3) (48,11.1) (49,7.8) (50,4.1) (51,0.9) (50,-3.2) (52,-7.6) (53,9.4) (54,5.3) (55,1.7) (56,-1.9) (58,8.2) (57,11.8) (55,-8.8) (30,7.4) (32,3.2) (31,-2.9) (33,-6.8) (29,12.7) (27,9.9)
};
\end{axis}
\end{tikzpicture}
\end{document}
